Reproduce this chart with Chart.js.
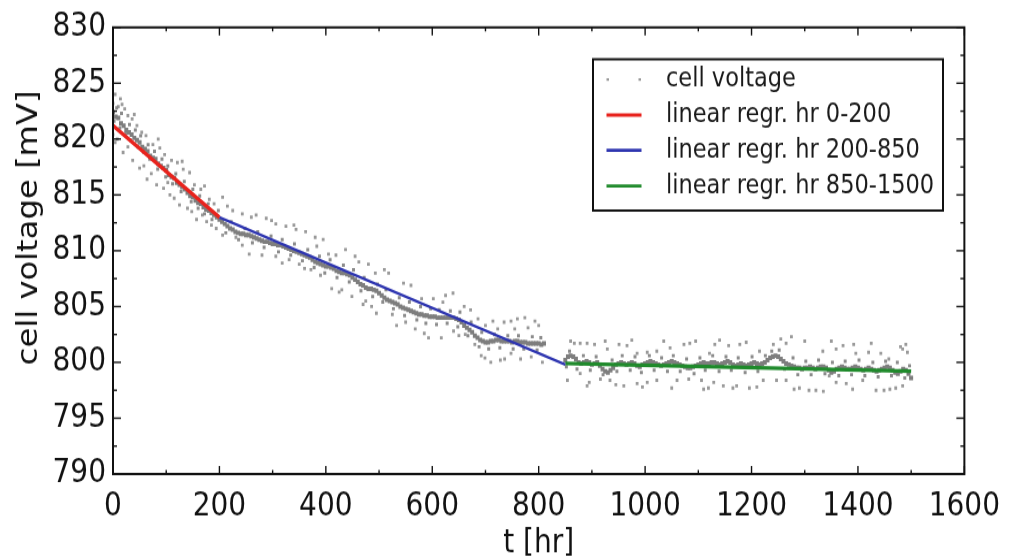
<!DOCTYPE html>
<html><head><meta charset="utf-8">
<script src="https://cdn.jsdelivr.net/npm/chart.js@4/dist/chart.umd.min.js"></script>
<style>
html,body{margin:0;padding:0;background:#fff;overflow:hidden;}
#wrap{position:absolute;left:0;top:0;width:1012px;height:485px;transform:scaleY(1.1505);transform-origin:0 0;}
canvas{display:block;}
</style></head><body>
<div id="wrap"><canvas id="c" width="1012" height="485"></canvas></div>
<script>
// ---- data (t [hr], cell voltage [mV]) ----
const bandEarly = [[0,822.4],[5,822.0],[10,821.9],[15,821.4],[20,821.2],[25,820.8],[30,820.6],[35,820.4],[40,820.1],[45,819.9],[50,819.7],[55,819.3],[60,819.1],[65,818.9],[70,818.5],[75,818.3],[80,818.2],[85,817.8],[90,817.6],[95,817.4],[100,817.2],[105,816.8],[110,816.6],[115,816.5],[120,816.1],[125,815.9],[130,815.7],[135,815.5],[140,815.2],[145,814.9],[150,814.8],[155,814.5],[160,814.3],[165,814.2],[170,813.9],[175,813.7],[180,813.6],[185,813.4],[190,813.2],[195,813.0],[200,812.8]];
const bandMid = [[205,812.6],[210,812.4],[215,812.2],[220,812.0],[225,811.9],[230,811.7],[235,811.6],[240,811.5],[245,811.5],[250,811.4],[255,811.4],[260,811.3],[265,811.2],[270,811.1],[275,811.0],[280,810.9],[285,810.8],[290,810.8],[295,810.7],[300,810.6],[305,810.6],[310,810.5],[315,810.5],[320,810.4],[325,810.3],[330,810.2],[335,810.1],[340,810.0],[345,809.9],[350,809.8],[355,809.7],[360,809.6],[365,809.5],[370,809.4],[375,809.2],[380,809.0],[385,808.9],[390,808.8],[395,808.7],[400,808.6],[405,808.6],[410,808.5],[415,808.4],[420,808.2],[425,808.1],[430,808.0],[435,808.0],[440,807.9],[445,807.8],[450,807.6],[455,807.4],[460,807.2],[465,807.0],[470,806.9],[475,806.7],[480,806.6],[485,806.6],[490,806.5],[495,806.4],[500,806.2],[505,806.0],[510,805.8],[515,805.6],[520,805.5],[525,805.4],[530,805.3],[535,805.2],[540,805.0],[545,804.9],[550,804.8],[555,804.7],[560,804.6],[565,804.5],[570,804.4],[575,804.3],[580,804.3],[585,804.2],[590,804.2],[595,804.1],[600,804.1],[605,804.1],[610,804.0],[615,804.0],[620,804.0],[625,804.0],[630,804.0],[635,804.0],[640,804.0],[645,803.9],[650,803.8],[655,803.6],[660,803.3],[665,803.1],[670,802.9],[675,802.7],[680,802.4],[685,802.2],[690,802.0],[695,801.9],[700,801.8],[705,801.8],[710,801.9],[715,801.9],[720,802.0],[725,802.0],[730,801.9],[735,801.9],[740,801.9],[745,801.9],[750,801.8],[755,801.9],[760,801.9],[765,801.8],[770,801.8],[775,801.8],[780,801.7],[785,801.7],[790,801.7],[795,801.7],[800,801.7],[805,801.6],[810,801.7]];
const bandLate = [[850,800.2],[855,800.5],[860,800.6],[865,800.5],[870,800.3],[875,800.0],[880,799.9],[885,800.0],[890,800.1],[895,800.0],[900,799.8],[905,799.9],[910,800.0],[915,799.7],[920,799.4],[925,799.2],[930,799.1],[935,799.3],[940,799.5],[945,799.8],[950,799.9],[955,800.0],[960,799.9],[965,799.8],[970,799.9],[975,800.0],[980,799.9],[985,799.7],[990,799.6],[995,799.8],[1000,799.9],[1005,800.0],[1010,800.1],[1015,800.0],[1020,799.9],[1025,799.8],[1030,799.7],[1035,799.8],[1040,799.9],[1045,800.0],[1050,800.1],[1055,800.0],[1060,799.9],[1065,799.8],[1070,799.7],[1075,799.6],[1080,799.5],[1085,799.5],[1090,799.6],[1095,799.7],[1100,799.8],[1105,799.9],[1110,800.0],[1115,799.9],[1120,799.9],[1125,800.0],[1130,800.0],[1135,799.9],[1140,799.8],[1145,799.9],[1150,800.0],[1155,800.1],[1160,800.0],[1165,799.8],[1170,799.7],[1175,799.8],[1180,799.9],[1185,799.8],[1190,799.7],[1195,799.8],[1200,799.9],[1205,800.0],[1210,799.9],[1215,799.8],[1220,799.9],[1225,800.0],[1230,800.2],[1235,800.4],[1240,800.5],[1245,800.6],[1250,800.5],[1255,800.3],[1260,800.1],[1265,799.9],[1270,799.8],[1275,799.7],[1280,799.6],[1285,799.5],[1290,799.5],[1295,799.4],[1300,799.5],[1305,799.5],[1310,799.6],[1315,799.5],[1320,799.4],[1325,799.5],[1330,799.6],[1335,799.6],[1340,799.5],[1345,799.3],[1350,799.1],[1355,799.2],[1360,799.4],[1365,799.5],[1370,799.6],[1375,799.5],[1380,799.4],[1385,799.4],[1390,799.5],[1395,799.6],[1400,799.5],[1405,799.4],[1410,799.3],[1415,799.4],[1420,799.5],[1425,799.4],[1430,799.3],[1435,799.2],[1440,799.3],[1445,799.4],[1450,799.5],[1455,799.6],[1460,799.5],[1465,799.3],[1470,799.1],[1475,799.0],[1480,799.2],[1485,799.4],[1490,799.3],[1495,799.0],[1500,798.6]];
const nearBand = [[2,821.6],[7,822.8],[13,821.0],[16,822.3],[24,820.5],[31,821.3],[33,819.9],[42,820.8],[47,819.3],[52,820.3],[58,818.8],[66,819.5],[69,818.2],[78,818.9],[84,817.3],[92,818.2],[99,816.6],[103,817.6],[112,816.0],[118,816.9],[128,815.3],[134,816.2],[147,814.4],[150,815.5],[160,813.8],[163,814.9],[172,813.3],[179,814.2],[186,812.8],[198,813.6],
  [212,811.6],[222,812.6],[236,811.0],[248,812.0],[262,810.7],[272,811.7],[284,810.3],[297,811.3],[311,809.9],[318,811.0],[334,809.6],[341,810.6],[356,809.1],[366,810.1],[378,808.5],[388,809.5],[398,808.0],[408,809.2],[421,807.6],[433,808.7],[444,807.2],[452,808.3],[466,806.4],[472,807.6],[488,805.9],[497,807.0],[507,805.4],[513,806.5],[527,804.8],[538,805.8],[548,804.2],[557,805.4],[571,803.8],[578,805.0],[588,803.5],[597,804.8],[608,803.4],[613,804.7],[628,803.5],[634,804.6],[648,803.2],[652,804.5],[667,802.4],[673,803.6],[688,801.4],[693,802.7],[706,801.2],[717,802.5],[727,801.3],[742,802.4],[752,801.2],[762,802.4],[772,801.2],[788,802.3],[797,801.1],[804,802.2],
  [852,799.6],[858,801.0],[872,799.4],[884,800.6],[897,799.3],[908,800.5],[921,798.9],[938,800.2],[947,799.2],[957,800.6],[972,799.3],[981,800.5],[993,799.1],[1008,800.6],[1017,799.3],[1031,800.4],[1042,799.2],[1053,800.6],[1066,799.2],[1078,800.3],[1092,799.0],[1103,800.4],[1113,799.3],[1127,800.6],[1139,799.2],[1152,800.5],[1162,799.3],[1175,800.4],[1188,799.1],[1201,800.5],[1212,799.2],[1226,800.6],[1238,801.0],[1252,801.1],[1262,799.4],[1278,800.4],[1287,798.9],[1302,800.1],[1312,798.9],[1326,800.2],[1338,799.0],[1352,800.0],[1364,798.8],[1376,800.1],[1388,798.9],[1402,800.2],[1413,798.8],[1428,800.0],[1438,798.7],[1452,800.1],[1463,798.8],[1474,800.0],[1488,798.6],[1497,799.7]];
const scatterEarly = [[0,823.2],[4,824.0],[10,822.9],[17,823.1],[22,822.7],[28,822.1],[36,821.8],[45,821.2],[54,820.6],[62,820.3],[75,819.5],[88,819.2],[97,818.6],[110,818.1],[121,817.9],[132,817.3],[144,817.0],[153,815.9],[165,815.5],[181,814.6],[190,814.2],[206,814.8],
  [0,820.4],[4,819.7],[19,818.8],[28,819.3],[37,818.1],[50,817.4],[64,816.4],[72,816.9],[82,815.9],[95,815.6],[107,815.0],[115,814.7],[125,814.1],[140,813.8],[157,812.8],[168,813.2],[176,812.6],[194,812.0],
  [8,820.0],[14,823.6],[40,822.2],[58,817.6],[85,820.0],[103,816.1],[130,818.0],[148,813.5],[172,815.8],[185,812.3]];
const scatterMid = [[215,814.0],[243,813.3],[269,813.2],[288,812.9],[306,812.4],[325,812.2],[344,811.9],[362,811.7],[383,810.4],[395,811.0],
  [206,811.4],[231,811.2],[243,810.5],[256,809.7],[280,809.6],[306,809.5],[331,809.2],[350,808.8],[372,808.3],[390,807.8],
  [405,809.7],[419,809.6],[437,810.1],[462,809.0],[480,808.8],[493,808.0],[518,808.0],[546,807.1],[580,805.7],[602,805.7],[620,805.4],[639,806.2],[660,805.0],[686,803.9],[700,803.3],[714,803.7],[723,803.0],[735,803.6],[748,803.7],[755,803.0],[774,804.0],[780,803.1],[793,803.7],
  [411,806.6],[430,806.5],[449,805.9],[475,805.5],[486,805.0],[495,804.4],[533,803.3],[550,803.6],[568,803.0],[593,802.2],[617,802.2],[640,802.8],[662,802.5],[680,801.6],[699,800.4],[710,800.0],[736,800.3],[748,800.8],[766,800.3],[807,800.0],
  [225,813.6],[260,813.0],[298,812.7],[318,808.9],[340,812.3],[360,808.4],[380,811.2],[425,806.3],[455,809.5],[470,805.2],[510,808.3],[525,804.3],[560,806.9],[585,802.6],[625,806.0],[650,802.4],[672,804.7],[692,800.6],[728,800.2],[760,803.9],[786,800.5],[800,803.3]];
const scatterLate = [[867,801.7],[878,801.7],[891,801.7],[905,801.6],[929,801.2],[951,801.6],[966,801.5],[985,800.8],[1004,800.9],[1022,801.0],[1047,801.3],[1073,801.6],[1084,801.7],[1121,800.8],[1131,801.6],[1157,801.5],[1178,801.6],[1215,801.0],[1241,801.6],[1265,801.7],[1275,802.3],[1334,801.0],[1359,801.2],[1372,801.5],[1392,801.6],[1396,800.8],[1420,800.9],[1443,800.8],[1458,800.3],[1480,801.4],[1484,801.2],[1493,800.9],
  [854,798.4],[878,799.0],[891,797.9],[916,798.5],[934,798.4],[960,797.9],[985,798.1],[1004,798.2],[1022,798.4],[1060,798.4],[1082,798.5],[1106,798.4],[1119,797.7],[1129,798.2],[1147,797.9],[1172,797.9],[1196,797.7],[1222,798.4],[1247,798.4],[1265,798.4],[1290,797.7],[1308,797.5],[1321,797.5],[1346,798.8],[1359,798.2],[1378,798.1],[1409,798.4],[1434,797.5],[1449,797.5],[1471,797.7],[1484,797.9],[1499,798.6],
  [860,801.9],[895,798.2],[925,801.9],[945,798.0],[975,802.0],[995,797.8],[1035,801.9],[1050,797.7],[1095,801.9],[1110,797.6],[1140,802.0],[1165,797.7],[1190,801.8],[1210,797.8],[1255,802.1],[1280,797.6],[1300,801.9],[1335,797.4],[1350,801.9],[1390,797.6],[1425,801.7],[1460,797.6],[1490,801.6]];
const regr0to200 = [[0,821.2],[200,813.0]];
const regr200to850 = [[200,813.0],[850,799.8]];
const regr850to1500 = [[850,799.9],[1500,799.2]];
const seriesLabels = ['cell voltage','linear regr. hr 0-200','linear regr. hr 200-850','linear regr. hr 850-1500'];
const xTickLabels = ['0','200','400','600','800','1000','1200','1400','1600'];
const yTickLabels = ['790','795','800','805','810','815','820','825','830'];
const xTitle = 't [hr]';
const yTitle = 'cell voltage [mV]';

const colors = {band:'#7e7e7e', near:'#8c8c8c', scat:'#9a9a9a', red:'#e8231d', blue:'#2e35b0', green:'#1f8a2b'};
const FONT = '"DejaVu Sans", "Liberation Sans", sans-serif';
const toXY = a => a.map(p => ({x:p[0], y:p[1]}));

const decor = {
  id:'decor',
  afterDraw(chart){
    const {ctx, chartArea:a, scales:{x, y}} = chart;
    ctx.save();
    ctx.strokeStyle = '#111';
    ctx.lineWidth = 1.4;
    const xv = x.ticks.map(t => t.value), yv = y.ticks.map(t => t.value);
    const seg = (x1,y1,x2,y2) => {ctx.beginPath(); ctx.moveTo(x1,y1); ctx.lineTo(x2,y2); ctx.stroke();};
    xv.forEach((v,i) => {
      const p = x.getPixelForValue(v);
      seg(p,a.bottom,p,a.bottom-7); seg(p,a.top,p,a.top+7);
      if (i < xv.length-1) {
        const m = x.getPixelForValue((v + xv[i+1]) / 2);
        seg(m,a.bottom,m,a.bottom-3.5); seg(m,a.top,m,a.top+3.5);
      }
    });
    yv.forEach((v,i) => {
      const p = y.getPixelForValue(v);
      seg(a.left,p,a.left+8,p); seg(a.right,p,a.right-8,p);
      if (i < yv.length-1) {
        const m = y.getPixelForValue((v + yv[i+1]) / 2);
        seg(a.left,m,a.left+4,m); seg(a.right,m,a.right-4,m);
      }
    });
    ctx.lineWidth = 2;
    ctx.strokeRect(a.left, a.top, a.right-a.left, a.bottom-a.top);

    // axis titles
    ctx.fillStyle = '#111';
    ctx.font = '28px ' + FONT;
    ctx.textAlign = 'center'; ctx.textBaseline = 'middle';
    ctx.fillText(xTitle, (a.left+a.right)/2, 472.5);
    ctx.save();
    ctx.translate(30, 198);
    ctx.rotate(-Math.PI/2);
    ctx.fillText(yTitle, 0, 0);
    ctx.restore();

    // legend
    const bx = 593, by = 51.5, bw = 350, bh = 131.5;
    ctx.fillStyle = '#fff';
    ctx.fillRect(bx, by, bw, bh);
    ctx.lineWidth = 2; ctx.strokeStyle = '#111';
    ctx.strokeRect(bx, by, bw, bh);
    const rows = [69, 100, 130.7, 161.7];
    const lineCols = [null, colors.red, colors.blue, colors.green];
    ctx.font = '22.5px ' + FONT;
    ctx.textAlign = 'left'; ctx.textBaseline = 'middle';
    rows.forEach((ry, i) => {
      if (i === 0) {
        ctx.fillStyle = colors.scat;
        ctx.fillRect(606.5, ry-1, 2.5, 2.2);
        ctx.fillRect(638.5, ry-1, 2.5, 2.2);
      } else {
        ctx.strokeStyle = lineCols[i]; ctx.lineWidth = 2.8;
        seg(606.5, ry, 641.5, ry);
      }
      ctx.fillStyle = '#1a1a1a';
      ctx.fillText(seriesLabels[i], 666, ry);
    });
    ctx.restore();
  }
};

new Chart(document.getElementById('c'), {
  type:'scatter',
  data:{datasets:[
    {label:seriesLabels[0], data:toXY(bandEarly.concat(bandMid, bandLate)), pointStyle:'rect', pointRadius:2.8, pointBorderWidth:0, pointBackgroundColor:colors.band, order:3},
    {label:seriesLabels[0]+' ', data:toXY(nearBand), pointStyle:'rect', pointRadius:2.1, pointBorderWidth:0, pointBackgroundColor:colors.near, order:4},
    {label:seriesLabels[0]+'  ', data:toXY(scatterEarly.concat(scatterMid, scatterLate)), pointStyle:'rect', pointRadius:2.0, pointBorderWidth:0, pointBackgroundColor:colors.scat, order:5},
    {label:seriesLabels[1], data:toXY(regr0to200), showLine:true, borderColor:colors.red, borderWidth:3.4, pointRadius:0, order:1},
    {label:seriesLabels[2], data:toXY(regr200to850), showLine:true, borderColor:colors.blue, borderWidth:2.4, pointRadius:0, order:1},
    {label:seriesLabels[3], data:toXY(regr850to1500), showLine:true, borderColor:colors.green, borderWidth:3.2, pointRadius:0, order:1}
  ]},
  options:{
    responsive:false, animation:false, devicePixelRatio:1,
    layout:{padding:{left:0, right:43, top:21, bottom:0}},
    plugins:{legend:{display:false}, tooltip:{enabled:false}},
    scales:{
      x:{type:'linear', min:0, max:1600,
         afterBuildTicks(s){ s.ticks = xTickLabels.map(Number).map(v => ({value:v})); },
         ticks:{callback:(v,i)=>xTickLabels[i], font:{family:FONT, size:28}, color:'#111', padding:12, maxRotation:0, autoSkip:false},
         grid:{display:false, drawTicks:false}, border:{display:false},
         afterFit(s){ s.height = 73; }},
      y:{type:'linear', min:790, max:830,
         afterBuildTicks(s){ s.ticks = yTickLabels.map(Number).map(v => ({value:v})); },
         ticks:{callback:(v,i)=>yTickLabels[i], font:{family:FONT, size:28}, color:'#111', padding:7, autoSkip:false},
         grid:{display:false, drawTicks:false}, border:{display:false},
         afterFit(s){ s.width = 113; }}
    }
  },
  plugins:[decor]
});
</script></body></html>
